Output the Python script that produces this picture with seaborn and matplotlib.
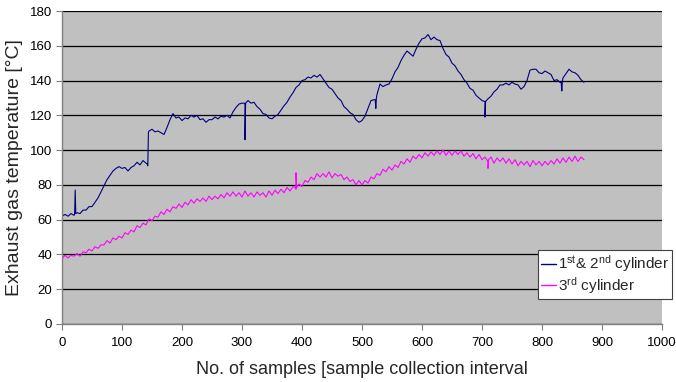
import numpy as np
import pandas as pd
import matplotlib
matplotlib.use("Agg")
import matplotlib.pyplot as plt
import seaborn as sns

step = 5
cyl12 = [62, 63, 62, 63.5, 62.5, 64, 63.5, 65.5, 65.5, 67.5,
         67.5, 70, 72.5, 76, 79.5, 83, 85.5, 88, 89.5, 90.5,
         89.5, 90, 88, 90, 91, 93, 91.5, 94, 92.5, 111,
         112, 110.5, 111, 110, 109, 113, 117.5, 121, 118.5, 119,
         117, 118.5, 118, 120, 119, 120, 117.5, 118, 116, 117.5,
         117.5, 119, 118, 119.5, 119, 120, 118.5, 122, 124.5, 126.5,
         127, 126, 128.5, 127, 127.5, 125, 123.5, 121, 120.5, 118.5,
         118, 119.5, 120.5, 123, 125.5, 127.5, 130.5, 133, 136, 137.5,
         140, 140.5, 142, 141.5, 143, 142, 143.5, 141, 138.5, 136,
         135, 132.5, 130, 128.5, 125, 123.5, 121.5, 120.5, 117.5, 116,
         117, 119.5, 124, 128.5, 129, 132, 138, 136.5, 137.5, 138,
         141, 145, 147.5, 151.5, 154.5, 157, 155.5, 154, 158, 161.5,
         164, 164.5, 166.5, 163.5, 165, 163.5, 163, 158.5, 155, 153.5,
         150, 148.5, 145.5, 143.5, 140.5, 138.5, 135.5, 134.5, 131.5, 130,
         128.5, 128, 129.5, 131, 133.5, 135, 137.5, 137.5, 138.5, 137.5,
         139, 138, 137.5, 135, 136.5, 140, 146, 146.5, 146.5, 144.5,
         144, 145.5, 144.5, 143.5, 140, 140.5, 139, 141.5, 144, 146.5,
         145, 144.5, 143, 140.5, 139]
cyl3 = [37.5, 39.5, 38, 39.5, 39, 40.5, 39, 41.5, 41, 43,
        42, 44.5, 43.5, 45.5, 45.5, 48, 46.5, 49.5, 48.5, 50.5,
        49.5, 52.5, 51.5, 54, 53, 56.5, 55.5, 58, 57, 60.5,
        59.5, 62, 61.5, 64.5, 63, 66, 64.5, 67.5, 66.5, 69,
        67, 70, 68.5, 71.5, 69.5, 72, 70.5, 72.5, 70.5, 73.5,
        71.5, 73.5, 72, 74.5, 72.5, 75.5, 73.5, 76, 73.5, 75.5,
        73, 76.5, 73.5, 75.5, 73, 76, 74, 75.5, 73, 76.5,
        74, 77, 75, 77.5, 75.5, 78.5, 76.5, 79, 77.5, 80.5,
        79, 82.5, 81.5, 84.5, 83, 86.5, 84.5, 86.5, 84.5, 87.5,
        84, 86.5, 85, 86, 83, 84.5, 82, 83, 80, 82.5,
        80, 82.5, 81, 84.5, 83.5, 86.5, 85.5, 89, 87.5, 90.5,
        88.5, 91.5, 90, 93.5, 92, 95, 93, 96.5, 95, 97.5,
        95.5, 98.5, 96.5, 99, 97, 99.5, 97.5, 100, 97, 99.5,
        97, 99.5, 97.5, 99.5, 96.5, 98.5, 96, 98, 95, 97.5,
        94.5, 96, 93, 96, 92.5, 95.5, 93.5, 95.5, 92.5, 95,
        92, 94.5, 91, 93.5, 91.5, 93.5, 90.5, 94, 91.5, 93.5,
        91, 93.5, 91.5, 94, 92, 95, 92.5, 95.5, 93, 96,
        93.5, 96.5, 93.5, 96, 94.5]
# short spikes (sample, value)
cyl12_spikes = [(21, 63), (22, 77), (23, 63.5),
                (142, 92), (143, 91), (144, 110),
                (304, 127), (305, 106), (306, 127),
                (522, 129), (523, 124), (524, 130),
                (704, 128), (705, 119), (706, 128),
                (832, 139), (833, 134), (834, 140)]
cyl3_spikes = [(389, 78.5), (390, 87), (391, 78.5),
               (709, 94), (710, 89.5), (711, 94.5)]

label12 = r"1$^{\mathrm{st}}$& 2$^{\mathrm{nd}}$ cylinder"
label3 = r"3$^{\mathrm{rd}}$ cylinder"


def build(values, spikes, name):
    x = list(np.arange(len(values)) * step)
    pts = list(zip(x, values)) + spikes
    pts.sort(key=lambda p: p[0])
    df = pd.DataFrame(pts, columns=["sample", "temp"])
    df["series"] = name
    return df


df = pd.concat([build(cyl12, cyl12_spikes, label12),
                build(cyl3, cyl3_spikes, label3)], ignore_index=True)

sns.set_theme(style="white")
plt.rcParams["font.family"] = ["Liberation Sans", "DejaVu Sans"]
plt.rcParams["mathtext.fontset"] = "custom"
plt.rcParams["mathtext.rm"] = "Liberation Sans"
plt.rcParams["mathtext.it"] = "Liberation Sans"

fig = plt.figure(figsize=(6.76, 3.82), dpi=100)
ax = fig.add_axes([62 / 676, 1 - 324 / 382, 600 / 676, 313 / 382])
ax.set_facecolor("#C0C0C0")

sns.lineplot(data=df, x="sample", y="temp", hue="series",
             palette={label12: "#000080", label3: "#FF00FF"},
             estimator=None, sort=False, linewidth=0.8, ax=ax)

ax.set_xlim(0, 1000)
ax.set_ylim(0, 180)
ax.set_xticks(range(0, 1001, 100))
ax.set_yticks(range(0, 181, 20))
ax.yaxis.grid(True, color="black", linewidth=0.9)
ax.xaxis.grid(False)
ax.set_axisbelow(True)
for s in ["top", "right"]:
    ax.spines[s].set_visible(False)
for s in ["left", "bottom"]:
    ax.spines[s].set_color("#808080")
    ax.spines[s].set_linewidth(1.0)
ax.tick_params(axis="both", which="major", length=4, width=0.8,
               color="#808080", labelsize=9.5, labelcolor="black",
               direction="out", left=True, bottom=True)
ax.tick_params(axis="x", pad=5)
ax.tick_params(axis="y", pad=3)

ax.set_xlabel("No. of samples [sample collection interval", fontsize=13, labelpad=9)
ax.set_ylabel("Exhaust gas temperature [°C]", fontsize=14, labelpad=5)

leg = ax.legend(loc="upper left", bbox_to_anchor=(0.793, 0.235),
                frameon=True, fancybox=False, fontsize=11,
                handlelength=1.0, handletextpad=0.1, borderpad=0.2,
                labelspacing=0.05, borderaxespad=0)
leg.get_frame().set_edgecolor("#404040")
leg.get_frame().set_facecolor("white")
leg.get_frame().set_linewidth(0.8)
leg.get_frame().set_alpha(1)
for line in leg.get_lines():
    line.set_linewidth(1.0)

fig.savefig("out.png", dpi=100, facecolor="white")
